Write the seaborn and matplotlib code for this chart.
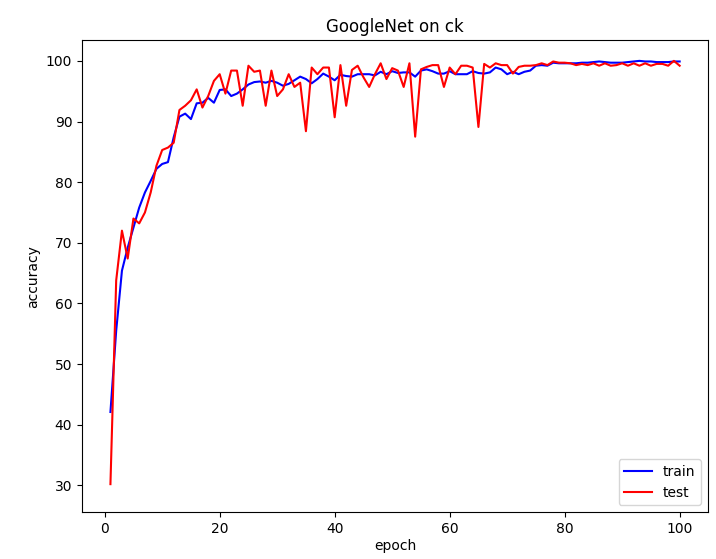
import numpy as np
import pandas as pd
import matplotlib
matplotlib.use('Agg')
import matplotlib.pyplot as plt
import seaborn as sns

epochs = list(range(1, 101))

train_acc = [42.1, 55.5, 65.4, 69.2, 72.5, 75.8, 78.3, 80.2, 82.2, 83.0,
             83.3, 87.4, 90.8, 91.3, 90.4, 93.0, 93.1, 93.9, 93.1, 95.2,
             95.3, 94.2, 94.6, 95.3, 96.1, 96.5, 96.6, 96.4, 96.7, 96.4,
             95.9, 96.2, 96.8, 97.4, 97.0, 96.3, 97.0, 97.9, 97.4, 96.8,
             97.7, 97.5, 97.4, 97.8, 97.8, 97.8, 97.6, 98.2, 97.8, 98.3,
             98.0, 98.1, 98.1, 97.4, 98.4, 98.6, 98.3, 97.9, 97.9, 98.3,
             97.8, 97.8, 97.8, 98.3, 98.0, 97.9, 98.1, 98.9, 98.6, 97.8,
             98.2, 97.8, 98.2, 98.4, 99.2, 99.3, 99.2, 99.7, 99.6, 99.6,
             99.6, 99.6, 99.7, 99.7, 99.8, 99.9, 99.8, 99.7, 99.7, 99.7,
             99.8, 99.9, 100.0, 99.9, 99.9, 99.8, 99.8, 99.8, 99.9, 99.9]

test_acc = [30.2, 63.8, 72.0, 67.4, 74.0, 73.2, 75.0, 78.3, 82.7, 85.3,
            85.7, 86.5, 91.9, 92.6, 93.5, 95.3, 92.3, 94.2, 96.7, 97.8,
            94.6, 98.4, 98.4, 92.6, 99.2, 98.2, 98.4, 92.6, 98.4, 94.2,
            95.3, 97.8, 95.7, 96.4, 88.4, 98.9, 97.8, 98.9, 98.9, 90.7,
            99.3, 92.6, 98.5, 99.2, 97.3, 95.7, 97.8, 99.6, 97.0, 98.8,
            98.4, 95.7, 99.6, 87.5, 98.6, 99.0, 99.3, 99.3, 95.7, 98.9,
            97.8, 99.2, 99.2, 98.9, 89.1, 99.5, 98.9, 99.6, 99.3, 99.3,
            97.9, 99.0, 99.2, 99.2, 99.3, 99.6, 99.3, 99.9, 99.7, 99.7,
            99.6, 99.3, 99.5, 99.3, 99.6, 99.2, 99.6, 99.2, 99.3, 99.6,
            99.2, 99.6, 99.2, 99.6, 99.2, 99.5, 99.5, 99.2, 100.0, 99.2]

df = pd.DataFrame({'epoch': epochs, 'train': train_acc, 'test': test_acc})

fig = plt.figure(figsize=(7.16, 5.59), dpi=100)
ax = fig.add_axes([0.1145, 0.084, 0.8745, 0.844])

sns.lineplot(data=df, x='epoch', y='train', color='blue', label='train', ax=ax)
sns.lineplot(data=df, x='epoch', y='test', color='red', label='test', ax=ax)

ax.set_ylim(25.6, 103.4)
ax.set_title('GoogleNet on ck')
ax.set_xlabel('epoch', labelpad=2)
ax.set_ylabel('accuracy')
ax.legend(loc='lower right')

fig.savefig('out.png', dpi=100)
plt.close()
